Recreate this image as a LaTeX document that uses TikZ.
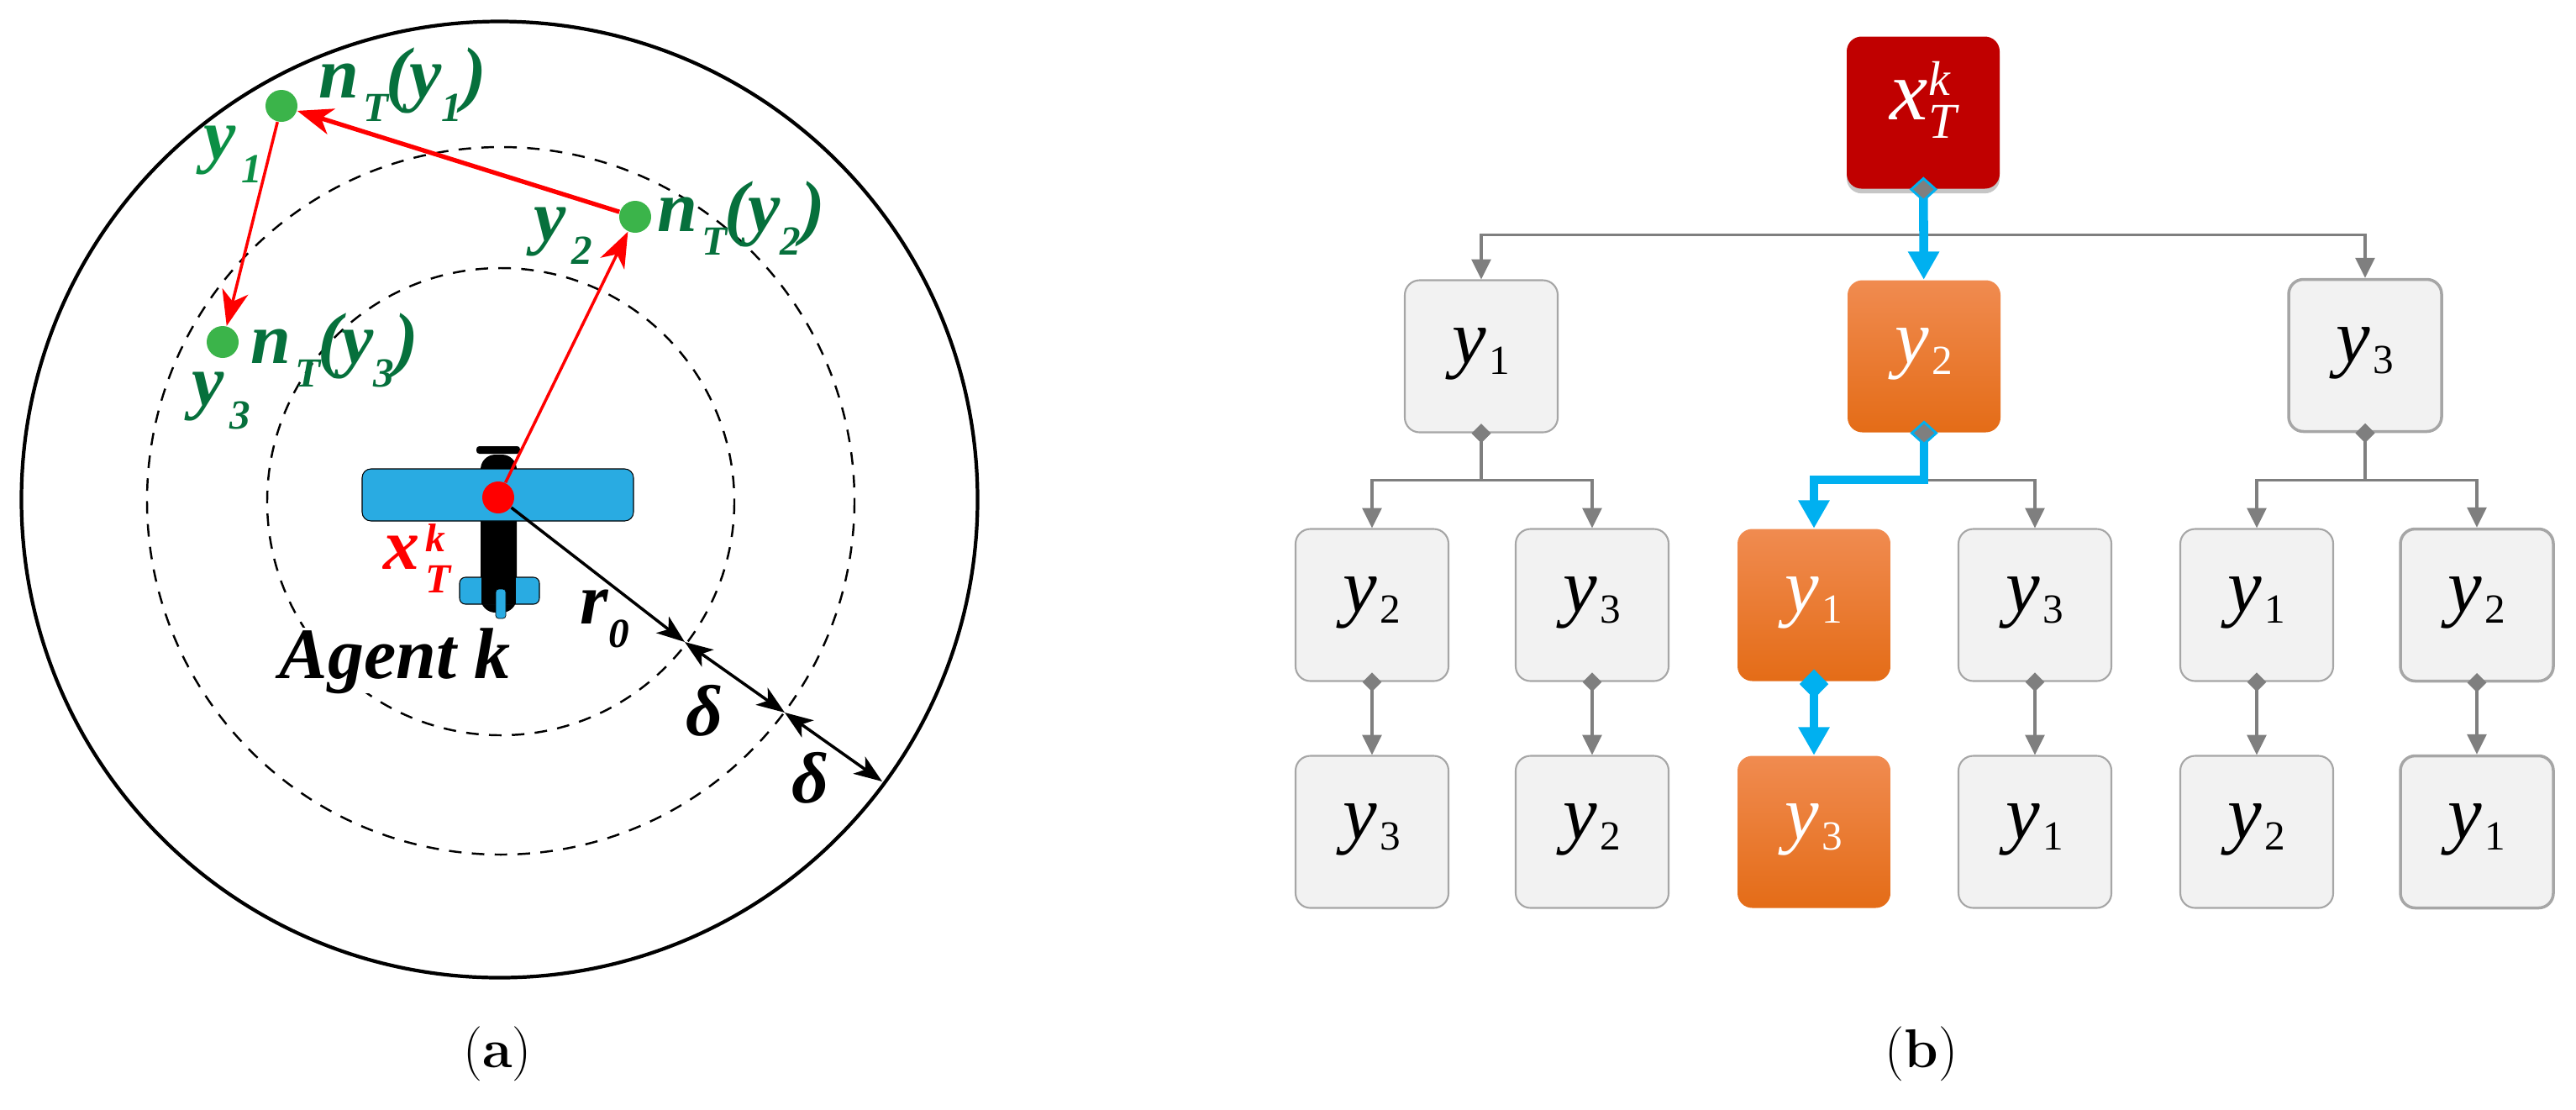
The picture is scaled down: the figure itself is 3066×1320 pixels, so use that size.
\documentclass[tikz,border=0pt]{standalone}
\usepackage{amsmath,amssymb}
\usepackage{fontspec}
\usepackage{tikz}
\usetikzlibrary{arrows.meta,shadows,shapes.geometric}
\newfontfamily\labfont{Liberation Serif}
\definecolor{darkgrn}{HTML}{06703C}
\definecolor{litegrn}{HTML}{0B8F45}
\definecolor{dotgrn}{HTML}{3BB44A}
\definecolor{wingblue}{HTML}{29ABE2}
\definecolor{pathblue}{HTML}{00B0F0}
\definecolor{branchgrey}{HTML}{7F7F7F}
\definecolor{boxfill}{HTML}{F2F2F2}
\definecolor{boxline}{HTML}{A6A6A6}
\definecolor{rootred}{HTML}{C00000}
\definecolor{orangetop}{HTML}{F08B50}
\definecolor{orangemid}{HTML}{F47D2A}
\definecolor{orangebot}{HTML}{E46C17}
\newcommand{\lsub}[1]{\raisebox{-8pt}{\fontsize{14}{14}\selectfont #1}}
\newcommand{\lsup}[1]{\rlap{\raisebox{5.7pt}{\fontsize{13.5}{14}\selectfont #1}}}
\newcommand{\yvar}[1]{{\itshape y\hspace{1pt}}\raisebox{-3.7pt}{\fontsize{14}{16}\selectfont #1}}

\begin{document}
\begin{tikzpicture}[
      x=0.1mm,y=-0.1mm,
      lab/.style={font=\labfont\bfseries\itshape\fontsize{24.5}{28}\selectfont,
        anchor=base west,inner sep=0pt},
      redarrow/.style={draw=red,line width=1pt,
        -{Stealth[length=12pt,width=9pt,inset=3.5pt]}},
      dim/.style={draw=black,line width=1pt,
        {Stealth[length=9.5pt,width=7pt,inset=2.5pt]}-{Stealth[length=9.5pt,width=7pt,inset=2.5pt]}},
      ring/.style={draw=black,line width=0.7pt,dash pattern=on 4.25pt off 3.5pt},
      goal/.style={circle,fill=dotgrn,minimum size=3.8mm,inner sep=0pt},
      wing/.style={draw=black,line width=0.3pt,fill=wingblue,rounded corners=3pt},
      box/.style={rectangle,rounded corners=5pt,minimum width=18.2mm,
        minimum height=18.1mm,inner sep=0pt,text height=5.1pt,text depth=0pt,
        font=\labfont\fontsize{26}{28}\selectfont},
      idle/.style={box,draw=boxline,line width=0.6pt,fill=boxfill},
      idlethick/.style={idle,line width=1pt},
      chosen/.style={box,text=white,top color=orangetop,middle color=orangemid,
        bottom color=orangebot},
      branch/.style={draw=branchgrey,line width=0.95pt,shorten <=-3.2pt,
        {Diamond[length=6.5pt,width=6.5pt,fill=branchgrey]}-{Triangle[length=6.8pt,width=6.5pt]}},
      picked/.style={draw=pathblue,line width=3pt,shorten <=-4.2pt,
        {Diamond[length=8.5pt,width=9.5pt,line width=0.8pt,color=pathblue,fill=branchgrey]}-{Triangle[length=9.5pt,width=10pt]}},
      pickedfull/.style={picked,{Diamond[length=10pt,width=9.8pt]}-{Triangle[length=9.5pt,width=10pt]}},
      caption/.style={font=\fontsize{18.5}{22}\selectfont,inner sep=0pt}
    ]
    \path[use as bounding box] (0,0) rectangle (3066,1320);
    % rings round the agent
    \draw[black,line width=1.2pt] (594.5,594.5) circle [radius=569];
    \draw[ring] (596,596) circle [radius=421];
    \draw[ring] (596,597) circle [radius=278];
    % the plane
    \fill[black,rounded corners=1pt] (567,531) rectangle (619,540);
    \fill[black,rounded corners=5pt] (572,541) rectangle (615,729);
    \draw[wing] (431,558) rectangle (754,620);
    \draw[wing,rounded corners=2pt] (547,687) rectangle (642,719);
    \fill[black] (573,687) rectangle (614,719);
    \draw[wing,line width=0.2pt,rounded corners=1pt] (590,701) rectangle (602,736);
    \node[circle,fill=red,minimum size=3.8mm,inner sep=0pt] (xT) at (593,592) {};
    % reachable goals
    \node[goal] (n1) at (335,126) {};
    \node[goal] (n2) at (756,258) {};
    \node[goal] (n3) at (265,407) {};
    \draw[redarrow] (xT) -- (n2);
    \draw[redarrow,line width=1.5pt] (n2) -- (n1);
    \draw[redarrow] (n1) -- (n3);
    \node[lab,text=darkgrn] (n1lab) at (379,116) {n\hspace{1.4pt}\lsub{T}\hspace{-1pt}(y\lsub{1})};
    \node[lab,text=darkgrn] (n2lab) at (782,275) {n\hspace{1.4pt}\lsub{T}\hspace{-1pt}(y\lsub{2})};
    \node[lab,text=darkgrn] (n3lab) at (298,432) {n\hspace{1.4pt}\lsub{T}\hspace{-1pt}(y\lsub{3})};
    \node[lab,text=litegrn] (y1lab) at (242,189) {y\hspace{2pt}\lsub{1}};
    \node[lab,text=darkgrn] (y2lab) at (635,286) {y\hspace{2pt}\lsub{2}};
    \node[lab,text=darkgrn] (y3lab) at (228,482) {y\hspace{2pt}\lsub{3}};
    \node[lab,text=red] (xlab) at (456,677) {x\hspace{2pt}\lsup{k}\lsub{T}};
    \node[lab,fill=white] (agent) at (332,807) {Agent k};
    % radii
    \coordinate (ra) at (815,764);
    \coordinate (rb) at (934,848);
    \coordinate (rc) at (1050,930);
    \draw[draw=black,line width=1pt,-{Stealth[length=9.5pt,width=7pt,inset=2.5pt]}] (xT) -- (ra);
    \draw[dim] (ra) -- (rb);
    \draw[dim] (rb) -- (rc);
    \node[lab] (r0) at (690,742) {r\lsub{0}};
    \node[lab] (d1) at (816,875) {δ};
    \node[lab] (d2) at (942,955) {δ};
    \node[caption] (capa) at (592,1254) {(\textbf{a})};
    % search tree
    \node[box,text=white,fill=rootred,drop shadow={shadow xshift=0pt,shadow yshift=-1.6pt,opacity=.45}] (x) at (2289,134)
      {\itshape\fontsize{29}{30}\selectfont x\hspace{0.3pt}\rlap{\raisebox{8.5pt}{\fontsize{16.5}{18}\selectfont k}}\raisebox{-6pt}{\fontsize{17}{18}\selectfont T}};
    \node[idle] (y1) at (1763,424) {\yvar{1}};
    \node[chosen] (y2) at (2290,424) {\yvar{2}};
    \node[idlethick] (y3) at (2815,423) {\yvar{3}};
    \node[idle] (y12) at (1633,720) {\yvar{2}};
    \node[idle] (y13) at (1895,720) {\yvar{3}};
    \node[chosen] (y21) at (2159,720) {\yvar{1}};
    \node[idle] (y23) at (2422,720) {\yvar{3}};
    \node[idle] (y31) at (2686,720) {\yvar{1}};
    \node[idlethick] (y32) at (2948,720) {\yvar{2}};
    \node[idle] (y123) at (1633,990) {\yvar{3}};
    \node[idle] (y132) at (1895,990) {\yvar{2}};
    \node[chosen] (y213) at (2159,990) {\yvar{3}};
    \node[idle] (y231) at (2422,990) {\yvar{1}};
    \node[idle] (y312) at (2686,990) {\yvar{2}};
    \node[idlethick] (y321) at (2948,990) {\yvar{1}};
    \draw[branch] (x.south) -- ++(0,54) -| (y1.north);
    \draw[branch] (x.south) -- ++(0,54) -| (y3.north);
    \draw[branch] (y1.south) -- ++(0,56) -| (y12.north);
    \draw[branch] (y1.south) -- ++(0,56) -| (y13.north);
    \draw[branch] (y2.south) -- ++(0,56) -| (y23.north);
    \draw[branch] (y3.south) -- ++(0,56) -| (y31.north);
    \draw[branch] (y3.south) -- ++(0,56) -| (y32.north);
    \draw[branch] (y12) -- (y123);
    \draw[branch] (y13) -- (y132);
    \draw[branch] (y23) -- (y231);
    \draw[branch] (y31) -- (y312);
    \draw[branch] (y32) -- (y321);
    % chosen route
    \draw[picked] (x) -- (y2);
    \draw[picked] (y2.south) -- ++(0,56) -| (y21.north);
    \draw[pickedfull] (y21) -- (y213);
    \node[caption] (capb) at (2287,1254) {(\textbf{b})};
  \end{tikzpicture}
\end{document}
